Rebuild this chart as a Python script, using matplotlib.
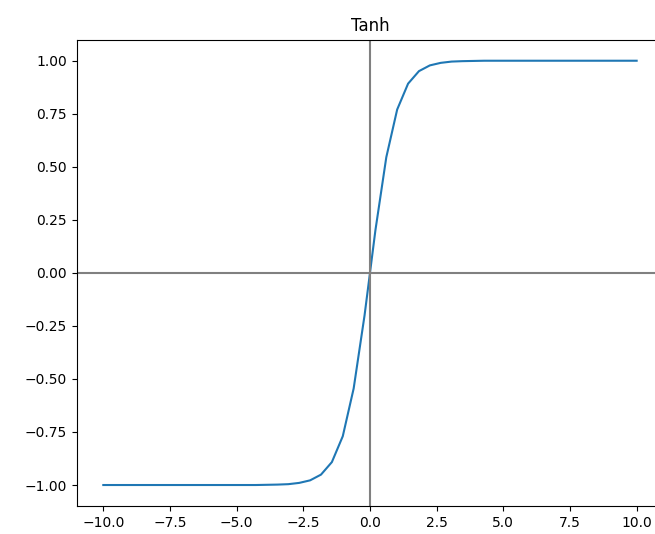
import matplotlib
matplotlib.use("Agg")
import matplotlib.pyplot as plt

# x samples along the curve (50 points from -10 to 10)
x_vals = [-10.000, -9.592, -9.184, -8.776, -8.367, -7.959, -7.551, -7.143, -6.735, -6.327,
          -5.918, -5.510, -5.102, -4.694, -4.286, -3.878, -3.469, -3.061, -2.653, -2.245,
          -1.837, -1.429, -1.020, -0.612, -0.204, 0.204, 0.612, 1.020, 1.429, 1.837,
          2.245, 2.653, 3.061, 3.469, 3.878, 4.286, 4.694, 5.102, 5.510, 5.918,
          6.327, 6.735, 7.143, 7.551, 7.959, 8.367, 8.776, 9.184, 9.592, 10.000]

# y values
y_vals = [-1.000, -1.000, -1.000, -1.000, -1.000, -1.000, -1.000, -1.000, -1.000, -1.000,
          -1.000, -1.000, -1.000, -1.000, -1.000, -0.999, -0.998, -0.996, -0.990, -0.978,
          -0.951, -0.892, -0.770, -0.545, -0.201, 0.201, 0.545, 0.770, 0.892, 0.951,
          0.978, 0.990, 0.996, 0.998, 0.999, 1.000, 1.000, 1.000, 1.000, 1.000,
          1.000, 1.000, 1.000, 1.000, 1.000, 1.000, 1.000, 1.000, 1.000, 1.000]

fig = plt.figure(figsize=(6.55, 5.34), dpi=100)
ax = fig.add_subplot()
# the right spine sits just past the image edge, as in the original
fig.subplots_adjust(left=0.117, right=1.0127, top=0.926, bottom=0.052)

ax.plot(x_vals, y_vals)
ax.axhline(0, color='gray')
ax.axvline(0, color='gray')
ax.set_title('Tanh')

fig.savefig('out.png', dpi=100)
